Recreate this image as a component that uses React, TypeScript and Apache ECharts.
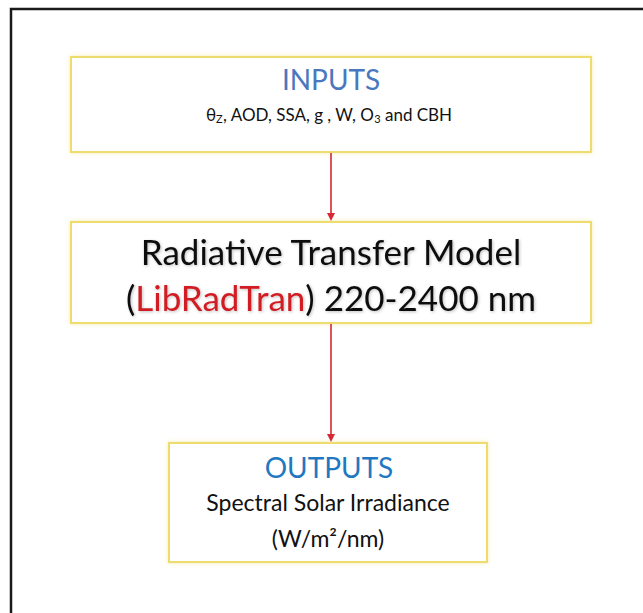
import React, { useEffect, useRef } from "react";
import * as echarts from "echarts";

// ---- content ----
const boxTitles = ["INPUTS", "", "OUTPUTS"];
const inputParams = ["θ{sub|Z}, AOD, SSA, g , W, O{sub|3} and CBH"];
const modelLines = ["Radiative Transfer Model", "({red|LibRadTran}) 220-2400 nm"];
const outputLines = ["Spectral Solar Irradiance", "(W/m²/nm)"];
const links: [number, number][] = [
  [0, 1],
  [1, 2],
];

const FONT = "Lato, 'Open Sans', sans-serif";

export default function App() {
  const ref = useRef<HTMLDivElement>(null);
  useEffect(() => {
    document.body.style.margin = "0";
    const chart = echarts.init(ref.current!, null, { renderer: "svg" });

    // box layout [x, y, w, h]
    const boxes = [
      [71, 57, 520, 95],
      [71, 222, 520, 101],
      [169, 443, 318, 119],
    ];
    const boxColor = "#EEDD6E";
    const graphic: any[] = [];

    // outer frame
    graphic.push({
      type: "polyline",
      shape: { points: [[11, 613], [11, 9], [643, 9]] },
      style: { stroke: "#1a1a1a", lineWidth: 2.5, fill: "none" },
    });

    boxes.forEach((b) => {
      graphic.push({
        type: "rect",
        shape: { x: b[0], y: b[1], width: b[2], height: b[3] },
        style: { fill: "#fff", stroke: boxColor, lineWidth: 2, shadowBlur: 4, shadowColor: "rgba(240,225,120,0.6)" },
      });
    });

    // arrows
    links.forEach(([a, c]) => {
      const A = boxes[a];
      const C = boxes[c];
      const x = 331;
      const y1 = A[1] + A[3] + 1;
      const y2 = C[1] - 1;
      graphic.push({
        type: "line",
        shape: { x1: x, y1, x2: x, y2: y2 - 6 },
        style: { stroke: "#D42A33", lineWidth: 1.6 },
      });
      graphic.push({
        type: "polygon",
        shape: { points: [[x - 4, y2 - 8], [x + 4, y2 - 8], [x, y2]] },
        style: { fill: "#D42A33" },
      });
    });

    const cx = 331;
    const shadow = { textShadowBlur: 3, textShadowColor: "rgba(0,0,0,0.25)", textShadowOffsetX: 1, textShadowOffsetY: 1 };
    // INPUTS box
    graphic.push({
      type: "text",
      x: cx,
      y: 79,
      style: { text: boxTitles[0], fontFamily: FONT, fontSize: 28, fill: "#4A78BE", align: "center", verticalAlign: "middle" },
    });
    graphic.push({
      type: "text",
      x: cx - 2,
      y: 114,
      style: {
        text: inputParams[0],
        fontFamily: FONT,
        fontSize: 17,
        lineHeight: 20,
        fill: "#111",
        align: "center",
        verticalAlign: "middle",
        rich: {
          sub: { fontFamily: FONT, fontSize: 11, lineHeight: 12, verticalAlign: "bottom", fill: "#111" },
        },
      },
    });

    // model box
    graphic.push({
      type: "text",
      x: cx,
      y: 251,
      style: { text: modelLines[0], fontFamily: FONT, fontSize: 35, fill: "#111", align: "center", verticalAlign: "middle", ...shadow },
    });
    graphic.push({
      type: "text",
      x: cx,
      y: 297,
      style: {
        text: modelLines[1],
        fontFamily: FONT,
        fontSize: 35,
        fill: "#111",
        align: "center",
        verticalAlign: "middle",
        ...shadow,
        rich: { red: { fontFamily: FONT, fontSize: 35, fill: "#D01E24", ...shadow } },
      },
    });

    // outputs box
    graphic.push({
      type: "text",
      x: cx - 2,
      y: 467,
      style: { text: boxTitles[2], fontFamily: FONT, fontSize: 28, fill: "#1F78C1", align: "center", verticalAlign: "middle" },
    });
    outputLines.forEach((t, i) => {
      graphic.push({
        type: "text",
        x: cx - 3,
        y: 502 + i * 36,
        style: { text: t, fontFamily: FONT, fontSize: 23, fill: "#111", align: "center", verticalAlign: "middle" },
      });
    });

    chart.setOption({
      animation: false,
      backgroundColor: "#fff",
      graphic,
    });
    return () => chart.dispose();
  }, []);
  return <div ref={ref} style={{ width: 643, height: 613 }} />;
}
